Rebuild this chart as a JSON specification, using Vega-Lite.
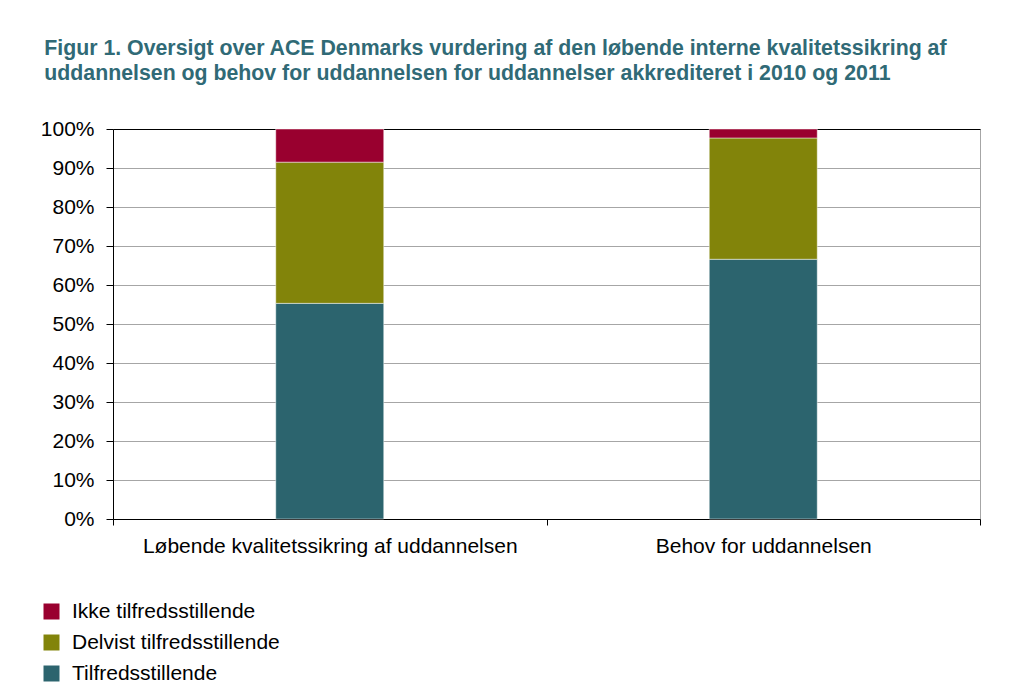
{
  "$schema": "https://vega.github.io/schema/vega-lite/v6.json",
  "width": 867,
  "height": 390,
  "padding": {"left": 40, "top": 37, "right": 5, "bottom": 5},
  "background": "white",
  "title": {
    "text": ["Figur 1. Oversigt over ACE Denmarks vurdering af den løbende interne kvalitetssikring af", "uddannelsen og behov for uddannelsen for uddannelser akkrediteret i 2010 og 2011"],
    "anchor": "start",
    "frame": "bounds",
    "dx": 4,
    "font": "Liberation Sans",
    "fontSize": 21.3,
    "fontWeight": "bold",
    "color": "#306A76",
    "lineHeight": 25,
    "offset": 34
  },
  "data": {
    "values": [
      {"kategori": "Løbende kvalitetssikring af uddannelsen", "vurdering": "Tilfredsstillende", "rank": 1, "andel": 0.553},
      {"kategori": "Løbende kvalitetssikring af uddannelsen", "vurdering": "Delvist tilfredsstillende", "rank": 2, "andel": 0.362},
      {"kategori": "Løbende kvalitetssikring af uddannelsen", "vurdering": "Ikke tilfredsstillende", "rank": 3, "andel": 0.085},
      {"kategori": "Behov for uddannelsen", "vurdering": "Tilfredsstillende", "rank": 1, "andel": 0.666},
      {"kategori": "Behov for uddannelsen", "vurdering": "Delvist tilfredsstillende", "rank": 2, "andel": 0.311},
      {"kategori": "Behov for uddannelsen", "vurdering": "Ikke tilfredsstillende", "rank": 3, "andel": 0.023}
    ]
  },
  "mark": {"type": "bar", "size": 108, "stroke": "#ffffff", "strokeWidth": 0.8, "strokeOpacity": 0.6},
  "encoding": {
    "x": {
      "field": "kategori",
      "type": "nominal",
      "sort": ["Løbende kvalitetssikring af uddannelsen", "Behov for uddannelsen"],
      "scale": {"paddingInner": 0, "paddingOuter": 0},
      "axis": {
        "title": null,
        "labelAngle": 0,
        "labelLimit": 0,
        "labelFont": "Liberation Sans",
        "labelFontSize": 21,
        "labelColor": "#000000",
        "tickBand": "extent",
        "tickSize": 6,
        "tickColor": "#000000",
        "domainColor": "#000000",
        "labelPadding": 10,
        "grid": false
      }
    },
    "y": {
      "field": "andel",
      "type": "quantitative",
      "stack": "zero",
      "scale": {"domain": [0, 1], "nice": false},
      "axis": {
        "title": null,
        "values": [0, 0.1, 0.2, 0.3, 0.4, 0.5, 0.6, 0.7, 0.8, 0.9, 1],
        "format": ".0%",
        "labelFont": "Liberation Sans",
        "labelFontSize": 21,
        "labelColor": "#000000",
        "tickSize": 7,
        "tickColor": "#000000",
        "labelPadding": 12,
        "domainColor": "#000000",
        "gridColor": {"condition": {"test": "datum.value >= 1", "value": "#000000"}, "value": "#A6A6A6"},
        "gridWidth": 1
      }
    },
    "color": {
      "field": "vurdering",
      "type": "nominal",
      "scale": {
        "domain": ["Ikke tilfredsstillende", "Delvist tilfredsstillende", "Tilfredsstillende"],
        "range": ["#99002F", "#82840A", "#2C646E"]
      },
      "legend": {
        "orient": "none",
        "legendX": -72,
        "legendY": 472,
        "title": null,
        "symbolType": "square",
        "symbolSize": 256,
        "symbolStrokeWidth": 0,
        "labelFont": "Liberation Sans",
        "labelFontSize": 21,
        "labelColor": "#000000",
        "labelLimit": 0,
        "labelOffset": 10,
        "rowPadding": 9,
        "padding": 0
      }
    },
    "order": {"field": "rank", "type": "quantitative"}
  },
  "config": {
    "font": "Liberation Sans",
    "view": {"stroke": "#A6A6A6"}
  }
}
